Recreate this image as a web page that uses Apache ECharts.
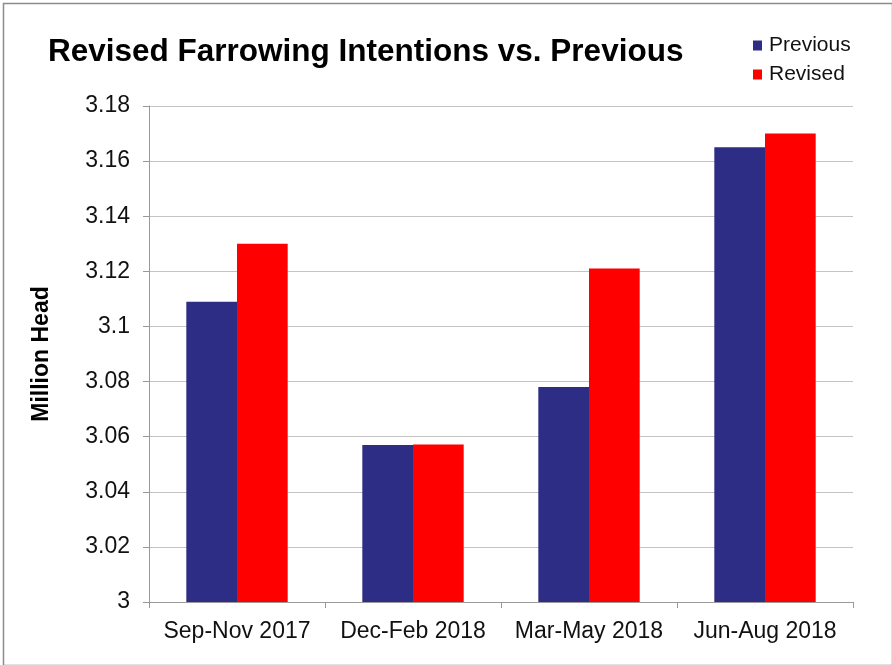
<!DOCTYPE html>
<html>
<head>
<meta charset="utf-8">
<script src="https://cdn.jsdelivr.net/npm/echarts@6/dist/echarts.min.js"></script>
<style>
html,body{margin:0;padding:0;background:#fff;}
#c{width:892px;height:665px;}
</style>
</head>
<body>
<div id="c"></div>
<script>
const categories = ['Sep-Nov 2017', 'Dec-Feb 2018', 'Mar-May 2018', 'Jun-Aug 2018'];
const previous = [3.109, 3.057, 3.078, 3.165];
const revised = [3.130, 3.0572, 3.121, 3.170];
const yMin = 3, yMax = 3.18, yStep = 0.02;

const chart = echarts.init(document.getElementById('c'), null, {renderer: 'canvas'});
const font = 'Liberation Sans, Arial, sans-serif';
chart.setOption({
  animation: false,
  backgroundColor: '#fff',
  textStyle: {fontFamily: font},
  title: {
    text: 'Revised Farrowing Intentions vs. Previous',
    left: 43, top: 31,
    textStyle: {fontFamily: font, fontSize: 31.5, fontWeight: 'bold', color: '#000'}
  },
  legend: {
    orient: 'vertical',
    left: 748, top: 30,
    itemWidth: 9, itemHeight: 10, itemGap: 8,
    icon: 'rect',
    textStyle: {fontFamily: font, fontSize: 21, color: '#111', padding: [0,0,0,2]},
    data: ['Previous', 'Revised']
  },
  grid: {left: 149, right: 39, top: 106, bottom: 63, containLabel: false},
  xAxis: {
    type: 'category',
    data: categories,
    axisLine: {lineStyle: {color: '#999', width: 1}},
    axisTick: {show: true, interval: 0, length: 6, lineStyle: {color: '#999'}},
    axisLabel: {interval: 0, fontFamily: font, fontSize: 23, color: '#111', margin: 18}
  },
  yAxis: {
    type: 'value',
    min: yMin, max: yMax, interval: yStep,
    name: 'Million Head',
    nameLocation: 'middle',
    nameGap: 96,
    nameTextStyle: {fontFamily: font, fontSize: 23, fontWeight: 'bold', color: '#000'},
    axisLine: {show: true, lineStyle: {color: '#999'}},
    axisTick: {show: true, length: 6, lineStyle: {color: '#999'}},
    axisLabel: {fontFamily: font, fontSize: 23, color: '#111', margin: 19},
    splitLine: {lineStyle: {color: '#c4c4c4', width: 1}}
  },
  series: [
    {name: 'Previous', type: 'bar', data: previous, barWidth: '28.8%', barGap: '0%',
     itemStyle: {color: '#2e2d85'}},
    {name: 'Revised', type: 'bar', data: revised, barWidth: '28.8%', barGap: '0%',
     itemStyle: {color: '#ff0000'}}
  ],
  graphic: [{
    type: 'rect', left: 1, top: 1, silent: true,
    shape: {width: 889, height: 662},
    style: {fill: 'none', stroke: '#8c8c8c', lineWidth: 1.5}
  }]
});
</script>
</body>
</html>
